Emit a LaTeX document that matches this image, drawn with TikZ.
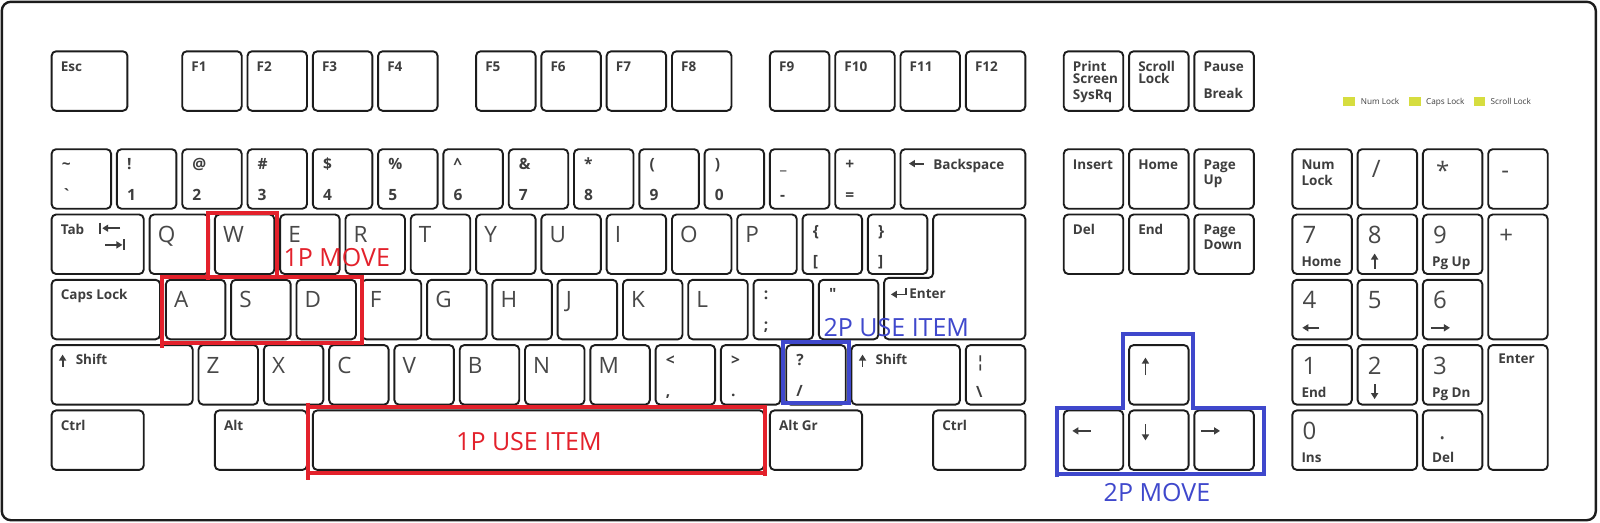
\documentclass[tikz,border=0pt]{standalone}
\usepackage{fontspec}
\setmainfont{Open Sans}
\newfontfamily\qfont{Open Sans}[Ligatures=TeXOff]
\usetikzlibrary{arrows.meta}
\definecolor{kline}{HTML}{1C1C1C}
\definecolor{ktext}{HTML}{3E3E3E}
\definecolor{ltext}{HTML}{484848}
\definecolor{pred}{HTML}{E3212B}
\definecolor{pblue}{HTML}{3F48CC}
\definecolor{led}{HTML}{D6DD3F}
\def\uu{65.3}
\def\xo{50.7}
\def\rF{50.4}\def\rN{148.3}\def\rT{213.6}\def\rC{278.9}\def\rS{344.2}\def\rB{409.5}
\newcommand\kbkey[5]{%
  \pgfmathsetmacro\kbx{\xo+#2*\uu+0.9}%
  \pgfmathsetmacro\kby{#3+0.9}%
  \pgfmathsetmacro\kbw{#4*\uu-5.8}%
  \pgfmathsetmacro\kbh{#5*\uu-5.8}%
  \node[keybox, minimum width=\kbw, minimum height=\kbh] (#1) at (\kbx,\kby) {};}
\newcommand\kl[5]{\node[#3] (#1-#2) at ([shift={#4}]#1.north west) {#5};}
\newcommand\ka[3]{\draw[ico] ([shift={#2}]#1.north west) -- ([shift={#3}]#1.north west);}
\newcommand\kdual[6]{\kbkey{#1}{#2}{#3}{1}{1}\kl{#1}{a}{#6}{(10,20)}{#4}\kl{#1}{b}{#6}{(10,51)}{#5}}
\newcommand\klet[3]{\kbkey{#1}{#2}{#3}{1}{1}\kl{#1}{a}{big}{(8,28)}{#1}}
\newcommand\ksm[5]{\kbkey{#1}{#2}{#3}{#4}{1}\kl{#1}{a}{sm}{(9,20)}{#5}}
\begin{document}
\begin{tikzpicture}[x=1pt,y=-1pt,
  keybox/.style={rectangle, draw=kline, line width=1.9, rounded corners=4.5, inner sep=0, outer sep=0, anchor=north west},
  sm/.style={font=\fontsize{13.5}{14}\selectfont\bfseries, text=ktext, inner sep=0, anchor=base west},
  num/.style={font=\fontsize{15.5}{16}\selectfont\bfseries, text=ktext, inner sep=0, anchor=base west},
  big/.style={font=\fontsize{22.5}{22.5}\selectfont, text=ltext, inner sep=0, anchor=base west},
  kpd/.style={font=\fontsize{24}{24}\selectfont, text=ltext, inner sep=0, anchor=base west},
  ico/.style={draw=ktext, line width=1.8, -{Triangle[width=7pt,length=6pt]}},
  bar/.style={draw=ktext, line width=1.6},
  ann/.style={font=\fontsize{25}{25}\selectfont, inner sep=0, anchor=base west},
  ledsq/.style={rectangle, fill=led, draw=none, minimum width=11.4, minimum height=9.5, inner sep=0, anchor=north west},
  ledtxt/.style={font=\fontsize{8.2}{8.2}\selectfont, text=ktext, inner sep=0, anchor=base west},
  redline/.style={draw=pred, line width=4},
  blueline/.style={draw=pblue, line width=4},
]
\useasboundingbox (0,0) rectangle (1600,522);
\fill[white] (0,0) rectangle (1600,522);
\draw[kline, line width=2.4, rounded corners=9] (1.8,1.8) rectangle (1595.8,520.2);

% ---- function row
\ksm{esc}{0}{\rF}{1.25}{Esc}
\ksm{f1}{2}{\rF}{1}{F1}
\ksm{f2}{3}{\rF}{1}{F2}
\ksm{f3}{4}{\rF}{1}{F3}
\ksm{f4}{5}{\rF}{1}{F4}
\ksm{f5}{6.5}{\rF}{1}{F5}
\ksm{f6}{7.5}{\rF}{1}{F6}
\ksm{f7}{8.5}{\rF}{1}{F7}
\ksm{f8}{9.5}{\rF}{1}{F8}
\ksm{f9}{11}{\rF}{1}{F9}
\ksm{f10}{12}{\rF}{1}{F10}
\ksm{f11}{13}{\rF}{1}{F11}
\ksm{f12}{14}{\rF}{1}{F12}
\kbkey{prt}{15.5}{\rF}{1}{1}
\kl{prt}{a}{sm}{(9,20)}{Print}\kl{prt}{b}{sm}{(9,32.5)}{Screen}\kl{prt}{c}{sm}{(9,48)}{SysRq}
\kbkey{scr}{16.5}{\rF}{1}{1}
\kl{scr}{a}{sm}{(9,20)}{Scroll}\kl{scr}{b}{sm}{(9,32.5)}{Lock}
\kbkey{pau}{17.5}{\rF}{1}{1}
\kl{pau}{a}{sm}{(9,20)}{Pause}\kl{pau}{b}{sm}{(9,47)}{Break}

% ---- LEDs
\node[ledsq] (led1) at (1343.1,96.7) {};
\node[ledtxt] (led1t) at (1360.7,104.3) {Num Lock};
\node[ledsq] (led2) at (1408.9,96.7) {};
\node[ledtxt] (led2t) at (1426,104.3) {Caps Lock};
\node[ledsq] (led3) at (1473.3,96.7) {};
\node[ledtxt] (led3t) at (1490.5,104.3) {Scroll Lock};

% ---- number row
\kdual{tilde}{0}{\rN}{\textasciitilde}{\textasciigrave}{num}
\kdual{n1}{1}{\rN}{!}{1}{num}
\kdual{n2}{2}{\rN}{@}{2}{num}
\kdual{n3}{3}{\rN}{\#}{3}{num}
\kdual{n4}{4}{\rN}{\$}{4}{num}
\kdual{n5}{5}{\rN}{\%}{5}{num}
\kdual{n6}{6}{\rN}{\textasciicircum}{6}{num}
\kdual{n7}{7}{\rN}{\&}{7}{num}
\kdual{n8}{8}{\rN}{*}{8}{num}
\kdual{n9}{9}{\rN}{(}{9}{num}
\kdual{n0}{10}{\rN}{)}{0}{num}
\kdual{minus}{11}{\rN}{\_}{-}{num}
\kdual{equal}{12}{\rN}{+}{=}{num}
\kbkey{bksp}{13}{\rN}{2}{1}
\ka{bksp}{(23.4,14.4)}{(8.4,14.4)}
\kl{bksp}{a}{sm}{(32.7,20)}{Backspace}
\ksm{ins}{15.5}{\rN}{1}{Insert}
\ksm{home}{16.5}{\rN}{1}{Home}
\kbkey{pgup}{17.5}{\rN}{1}{1}
\kl{pgup}{a}{sm}{(9,20)}{Page}\kl{pgup}{b}{sm}{(9,35)}{Up}
\kbkey{numlk}{19}{\rN}{1}{1}
\kl{numlk}{a}{sm}{(9,20)}{Num}\kl{numlk}{b}{sm}{(9,36)}{Lock}
\kbkey{kpdiv}{20}{\rN}{1}{1}\kl{kpdiv}{a}{kpd}{(14,28)}{/}
\kbkey{kpmul}{21}{\rN}{1}{1}\kl{kpmul}{a}{kpd}{(13,30)}{*}
\kbkey{kpsub}{22}{\rN}{1}{1}\kl{kpsub}{a}{kpd}{(13,29)}{-}

% ---- tab row
\kbkey{tab}{0}{\rT}{1.5}{1}
\kl{tab}{a}{sm}{(9,20)}{Tab}
\draw[bar] ([shift={(48.6,8.2)}]tab.north west) -- ([shift={(48.6,19.2)}]tab.north west);
\ka{tab}{(68.6,13.7)}{(50.6,13.7)}
\ka{tab}{(53.6,30.4)}{(70.8,30.4)}
\draw[bar] ([shift={(72.6,24.9)}]tab.north west) -- ([shift={(72.6,35.9)}]tab.north west);
\klet{Q}{1.5}{\rT}
\klet{W}{2.5}{\rT}
\klet{E}{3.5}{\rT}
\klet{R}{4.5}{\rT}
\klet{T}{5.5}{\rT}
\klet{Y}{6.5}{\rT}
\klet{U}{7.5}{\rT}
\klet{I}{8.5}{\rT}
\klet{O}{9.5}{\rT}
\klet{P}{10.5}{\rT}
\kbkey{lbr}{11.5}{\rT}{1}{1}\kl{lbr}{a}{num}{(10,22)}{\{}\kl{lbr}{b}{num}{(10,52)}{[}
\kbkey{rbr}{12.5}{\rT}{1}{1}\kl{rbr}{a}{num}{(10,22)}{\}}\kl{rbr}{b}{num}{(10,52)}{]}
% enter (two-row shape)
\pgfmathsetmacro\ea{\xo+13.5*\uu+0.9}
\pgfmathsetmacro\eb{\xo+12.75*\uu+0.9}
\pgfmathsetmacro\ec{\xo+15*\uu-4-0.9}
\draw[kline, line width=1.9, rounded corners=4.5] (\ea,\rT+0.9) -- (\ec,\rT+0.9) -- (\ec,\rC+60.4) -- (\eb,\rC+60.4) -- (\eb,\rC-1) -- (\ea,\rC-1) -- cycle;
\node[inner sep=0, minimum size=0, anchor=north west] (enter) at (\eb,\rC) {};
\draw[ico] ([shift={(21.7,9)}]enter.north west) -- ([shift={(21.7,15.5)}]enter.north west) -- ([shift={(6.7,15.5)}]enter.north west);
\kl{enter}{a}{sm}{(25,19.4)}{Enter}
\ksm{del}{15.5}{\rT}{1}{Del}
\ksm{end}{16.5}{\rT}{1}{End}
\kbkey{pgdn}{17.5}{\rT}{1}{1}
\kl{pgdn}{a}{sm}{(9,20)}{Page}\kl{pgdn}{b}{sm}{(9,35)}{Down}
\kbkey{kp7}{19}{\rT}{1}{1}\kl{kp7}{a}{kpd}{(10,29)}{7}\kl{kp7}{b}{sm}{(9,52)}{Home}
\kbkey{kp8}{20}{\rT}{1}{1}\kl{kp8}{a}{kpd}{(10,29)}{8}\ka{kp8}{(17,54)}{(17,39)}
\kbkey{kp9}{21}{\rT}{1}{1}\kl{kp9}{a}{kpd}{(10,29)}{9}\kl{kp9}{b}{sm}{(9,52)}{Pg Up}
\kbkey{kpadd}{22}{\rT}{1}{2}\kl{kpadd}{a}{kpd}{(11,29)}{+}

% ---- caps row
\ksm{caps}{0}{\rC}{1.75}{Caps Lock}
\klet{A}{1.75}{\rC}
\klet{S}{2.75}{\rC}
\klet{D}{3.75}{\rC}
\klet{F}{4.75}{\rC}
\klet{G}{5.75}{\rC}
\klet{H}{6.75}{\rC}
\klet{J}{7.75}{\rC}
\klet{K}{8.75}{\rC}
\klet{L}{9.75}{\rC}
\kdual{semi}{10.75}{\rC}{:}{;}{num}
\kbkey{quote}{11.75}{\rC}{1}{1}\kl{quote}{a}{num}{(10,20)}{\qfont\bfseries "}
\kbkey{kp4}{19}{\rC}{1}{1}\kl{kp4}{a}{kpd}{(10,29)}{4}\ka{kp4}{(27,48)}{(10,48)}
\kbkey{kp5}{20}{\rC}{1}{1}\kl{kp5}{a}{kpd}{(10,29)}{5}
\kbkey{kp6}{21}{\rC}{1}{1}\kl{kp6}{a}{kpd}{(10,29)}{6}\ka{kp6}{(8,48)}{(27,48)}

% ---- shift row
\kbkey{lshift}{0}{\rS}{2.25}{1}
\ka{lshift}{(11,21.5)}{(11,9.5)}\kl{lshift}{a}{sm}{(24,19)}{Shift}
\klet{Z}{2.25}{\rS}
\klet{X}{3.25}{\rS}
\klet{C}{4.25}{\rS}
\klet{V}{5.25}{\rS}
\klet{B}{6.25}{\rS}
\klet{N}{7.25}{\rS}
\klet{M}{8.25}{\rS}
\kdual{comma}{9.25}{\rS}{<}{,}{num}
\kdual{period}{10.25}{\rS}{>}{.}{num}
\kdual{slash}{11.25}{\rS}{?}{/}{num}
\kbkey{rshift}{12.25}{\rS}{1.75}{1}
\ka{rshift}{(11,21.5)}{(11,9.5)}\kl{rshift}{a}{sm}{(24,19)}{Shift}
\kbkey{bslash}{14}{\rS}{1}{1}\kl{bslash}{a}{num}{(10,22)}{¦}\kl{bslash}{b}{num}{(10,52)}{\textbackslash}
\kbkey{up}{16.5}{\rS}{1}{1}\ka{up}{(16.4,30)}{(16.4,12.5)}
\kbkey{kp1}{19}{\rS}{1}{1}\kl{kp1}{a}{kpd}{(10,29)}{1}\kl{kp1}{b}{sm}{(9,52)}{End}
\kbkey{kp2}{20}{\rS}{1}{1}\kl{kp2}{a}{kpd}{(10,29)}{2}\ka{kp2}{(17,39)}{(17,54)}
\kbkey{kp3}{21}{\rS}{1}{1}\kl{kp3}{a}{kpd}{(10,29)}{3}\kl{kp3}{b}{sm}{(9,52)}{Pg Dn}
\kbkey{kpent}{22}{\rS}{1}{2}\kl{kpent}{a}{sm}{(10,18)}{Enter}

% ---- bottom row
\ksm{lctrl}{0}{\rB}{1.5}{Ctrl}
\ksm{lalt}{2.5}{\rB}{1.5}{Alt}
\kbkey{space}{4}{\rB}{7}{1}
\ksm{altgr}{11}{\rB}{1.5}{Alt Gr}
\ksm{rctrl}{13.5}{\rB}{1.5}{Ctrl}
\kbkey{left}{15.5}{\rB}{1}{1}\ka{left}{(27,20.5)}{(8.6,20.5)}
\kbkey{down}{16.5}{\rB}{1}{1}\ka{down}{(16.4,14)}{(16.4,30)}
\kbkey{right}{17.5}{\rB}{1}{1}\ka{right}{(7,20.5)}{(25.7,20.5)}
\kbkey{kp0}{19}{\rB}{2}{1}\kl{kp0}{a}{kpd}{(10,29)}{0}\kl{kp0}{b}{sm}{(9,52)}{Ins}
\kbkey{kpdot}{21}{\rB}{1}{1}\kl{kpdot}{a}{kpd}{(16,29)}{.}\kl{kpdot}{b}{sm}{(9,52)}{Del}

% ---- annotations
\draw[redline] (162,348) -- (162,276.7) -- (361.5,276.7) -- (361.5,343.3) -- (160,343.3);
\draw[redline] (208.3,280) -- (208.3,213.3) -- (276.7,213.3) -- (276.7,279);
\draw[redline] (308.3,402.5) -- (308.3,479.5);
\draw[redline] (306.3,407.3) -- (765.2,407.3) -- (765.2,476);
\draw[redline] (306.3,473) -- (767,473);
\draw[blueline] (783,341.7) rectangle (848.6,403.3);
\draw[blueline] (1057,477) -- (1057,408.3) -- (1122.8,408.3) -- (1122.8,333.5) -- (1192.8,333.5) -- (1192.8,408.3) -- (1264.2,408.3) -- (1264.2,476);
\draw[blueline] (1055,473.5) -- (1266,473.5);

\node[ann, text=pred] (t1pmove) at (283.3,266) {1P MOVE};
\node[ann, text=pblue] (t2puse) at (823.4,336.7) {2P USE ITEM};
\node[ann, text=pred] (t1puse) at (456,450.7) {1P USE ITEM};
\node[ann, text=pblue] (t2pmove) at (1103.5,501.7) {2P MOVE};
\end{tikzpicture}
\end{document}
